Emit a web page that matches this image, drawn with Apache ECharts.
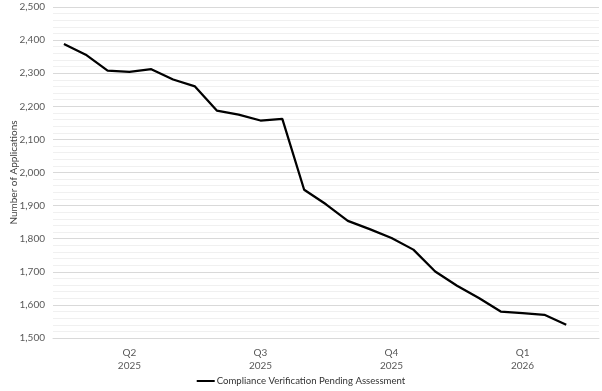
<!DOCTYPE html>
<html><head><meta charset="utf-8">
<script src="https://cdn.jsdelivr.net/npm/echarts@6/dist/echarts.min.js"></script>
<style>html,body{margin:0;padding:0;background:#fff}#c{width:602px;height:391px}</style>
</head><body><div id="c"></div>
<script>
const categories = ['P1','P2','P3','P4','P5','P6','P7','P8','P9','P10','P11','P12','P13','P14','P15','P16','P17','P18','P19','P20','P21','P22','P23','P24','P25'];
const pendingValues = [2388,2356,2308,2304,2312,2281,2260,2187,2175,2157,2162,1948,1904,1854,1829,1802,1767,1701,1658,1621,1580,1575,1570,1540,null];
const quarterLabels = {3:'Q2\n2025', 9:'Q3\n2025', 15:'Q4\n2025', 21:'Q1\n2026'};
const seriesName = 'Compliance Verification Pending Assessment';
const FONT = 'Lato';
const chart = echarts.init(document.getElementById('c'), null, {renderer:'canvas'});
chart.setOption({
  animation:false,
  textStyle:{fontFamily:FONT},
  grid:{left:53,right:3,top:7,bottom:53,containLabel:false,outerBoundsMode:'none'},
  legend:{bottom:0,left:'center',itemWidth:18,itemHeight:2,itemGap:4,icon:'rect',
    textStyle:{fontFamily:FONT,fontSize:9.6,color:'#333333',padding:[0,0,0,-3]},data:[seriesName]},
  xAxis:{type:'category',data:categories,boundaryGap:true,
    axisLine:{show:true,lineStyle:{color:'#d9d9d9'}},axisTick:{show:false},splitLine:{show:false},
    axisLabel:{interval:0,margin:8,lineHeight:13,fontSize:10,color:'#595959',fontFamily:FONT,
      formatter:(v,i)=>quarterLabels[i]||''}},
  yAxis:{type:'value',min:1500,max:2500,interval:100,
    name:'Number of Applications',nameLocation:'middle',nameGap:34,nameRotate:90,nameMoveOverlap:false,
    nameTextStyle:{fontSize:10,color:'#404040',fontFamily:FONT},
    axisLine:{show:false},axisTick:{show:false},
    axisLabel:{fontSize:10,color:'#595959',margin:8,fontFamily:FONT,
      formatter:v=>v.toLocaleString('en-US')},
    splitLine:{lineStyle:{color:'#d9d9d9',width:1}},
    minorTick:{show:false,splitNumber:5},
    minorSplitLine:{show:true,lineStyle:{color:'#f0f0f0',width:1}}},
  series:[{name:seriesName,type:'line',data:pendingValues,showSymbol:false,symbol:'none',
    lineStyle:{color:'#000',width:2.25},itemStyle:{color:'#000'}}]
});
</script></body></html>
